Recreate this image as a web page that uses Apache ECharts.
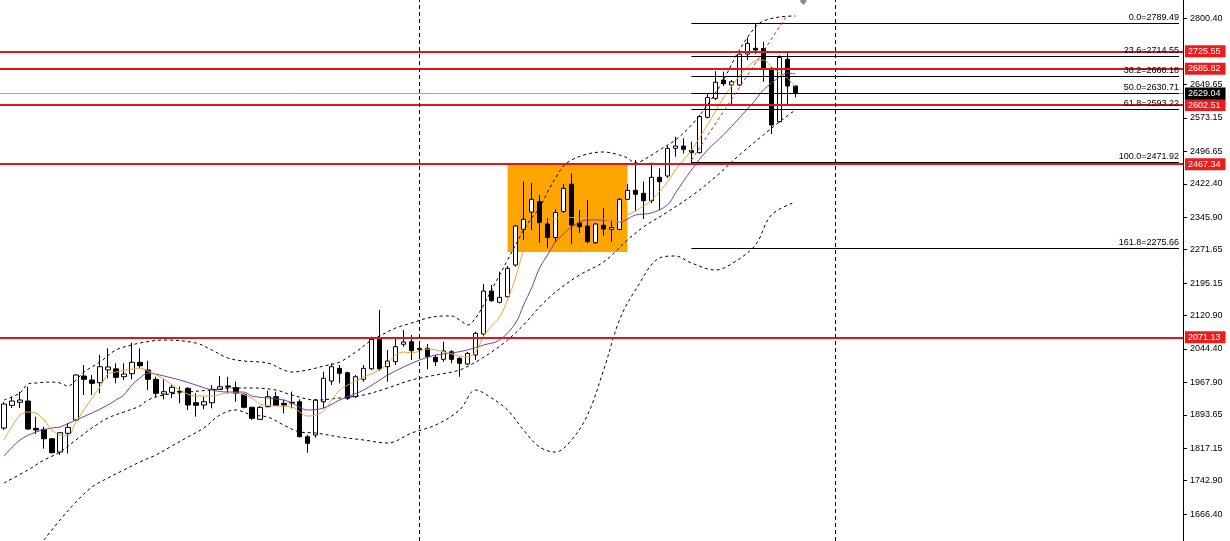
<!DOCTYPE html>
<html><head><meta charset="utf-8">
<script src="https://cdn.jsdelivr.net/npm/echarts@6/dist/echarts.min.js"></script>
<style>html,body{margin:0;padding:0;background:#fff}#c{width:1230px;height:541px}</style>
</head><body><div id="c"></div>
<script>
// candles: [open, high, low, close]
const ohlc = [
[1863.5,1923.0,1859.0,1918.4],[1915.5,1935.2,1909.3,1925.3],[1922.3,1946.6,1909.3,1927.6],[1925.3,1958.0,1859.0,1861.2],
[1862.8,1889.4,1849.8,1859.0],[1860.5,1866.5,1816.2,1839.0],[1839.0,1840.0,1805.6,1807.0],[1808.6,1853.5,1801.7,1852.8],
[1851.4,1875.0,1805.6,1865.1],[1881.8,1987.1,1879.5,1984.8],[1982.5,2007.7,1939.0,1975.0],[1973.4,1984.8,1939.0,1965.8],
[1967.2,2030.6,1942.9,2003.8],[1996.5,2045.9,1977.3,2003.3],[1998.9,2011.6,1965.8,1979.5],[1980.9,2011.6,1973.4,1987.1],
[1987.8,2058.7,1975.0,2013.9],[2013.9,2045.9,2000.1,2006.1],[1996.3,2017.5,1950.5,1975.0],[1975.0,1980.9,1935.2,1942.9],
[1941.3,1975.0,1929.2,1946.6],[1945.2,1961.9,1932.2,1956.7],[1947.5,1958.0,1920.0,1946.0],[1954.4,1956.7,1904.7,1916.2],
[1921.4,1942.9,1889.4,1915.5],[1916.2,1935.2,1906.3,1923.7],[1921.4,1961.9,1908.6,1952.1],[1952.1,1982.5,1950.5,1958.0],
[1959.6,1980.9,1942.9,1957.3],[1955.7,1969.5,1923.7,1942.9],[1940.6,1942.9,1908.6,1910.9],[1910.9,1912.3,1881.8,1885.7],
[1883.4,1913.9,1881.8,1910.9],[1912.3,1948.9,1910.9,1935.2],[1935.2,1946.6,1913.9,1915.5],[1920.0,1929.2,1897.2,1916.2],
[1922.3,1946.6,1908.6,1920.7],[1923.7,1929.2,1842.2,1843.6],[1843.6,1847.5,1807.0,1828.5],[1847.5,1929.9,1841.3,1927.6],
[1923.7,1992.4,1908.6,1977.3],[1971.1,2011.6,1961.9,2003.8],[2000.1,2007.7,1965.8,1988.7],[1990.1,1992.4,1927.6,1931.5],
[1935.2,1984.8,1932.2,1980.9],[1975.0,2007.7,1969.5,2000.1],[1998.9,2072.5,1996.3,2066.5],[2066.5,2133.6,1994.7,1998.9],
[2003.8,2042.1,1969.5,2016.9],[2015.2,2068.8,2007.7,2049.6],[2055.1,2087.8,2049.6,2060.4],[2061.0,2076.4,2019.2,2040.5],
[2043.2,2055.8,2028.3,2045.9],[2045.9,2055.8,1997.9,2026.7],[2025.3,2030.6,2005.4,2015.2],[2020.7,2061.0,2015.2,2039.7],
[2038.1,2042.1,2011.6,2020.7],[2023.0,2026.0,1980.9,2011.6],[2010.0,2037.4,2007.7,2034.5],[2030.6,2083.9,2019.2,2080.2],
[2078.6,2193.1,2074.1,2177.0],[2177.0,2190.8,2152.5,2154.8],[2151.2,2221.2,2148.9,2162.6],[2164.0,2234.2,2162.6,2229.0],
[2236.5,2328.1,2232.6,2325.8],[2318.2,2427.6,2293.7,2341.1],[2357.8,2424.2,2316.5,2386.9],[2381.4,2396.8,2287.6,2333.3],
[2330.4,2343.4,2274.8,2299.5],[2299.5,2364.0,2289.9,2356.7],[2359.0,2421.9,2355.6,2412.1],[2421.5,2446.4,2284.6,2328.1],
[2332.7,2362.4,2309.8,2324.2],[2325.8,2385.3,2286.2,2289.9],[2287.6,2332.7,2284.6,2330.4],[2327.6,2366.3,2303.0,2318.9],
[2318.2,2339.5,2289.9,2322.3],[2318.2,2389.9,2316.5,2386.9],[2386.9,2421.9,2385.3,2407.5],[2407.5,2476.9,2360.2,2398.4],
[2400.7,2427.2,2341.8,2383.7],[2383.7,2471.1,2377.8,2437.3],[2437.3,2457.9,2362.4,2427.2],[2440.2,2508.9,2435.7,2503.6],
[2503.6,2530.2,2484.4,2508.9],[2508.9,2526.5,2492.2,2501.3],[2498.6,2518.7,2470.0,2493.6],[2493.6,2579.8,2491.7,2576.4],
[2574.6,2629.5,2572.3,2619.9],[2618.0,2680.1,2614.2,2654.9],[2659.9,2678.9,2646.2,2651.5],[2648.5,2659.9,2602.7,2656.0],
[2648.5,2724.7,2646.2,2719.0],[2719.4,2757.2,2705.7,2743.9],[2732.5,2789.5,2719.4,2728.6],[2732.0,2747.6,2656.0,2686.7],
[2686.7,2690.4,2536.3,2557.0],[2564.5,2716.0,2562.7,2711.4],[2707.3,2721.0,2600.4,2646.2],[2646.2,2647.5,2620.0,2629.0]
];
// indicator readings: [candle index, price]
const maFast = [[0,1836.1],[2,1893.3],[3,1900.2],[4,1897.9],[5,1881.9],[6,1859.0],[7,1847.5],[8,1845.3],[9,1877.3],[10,1904.8],[11,1932.2],[12,1957.4],[13,1987.1],[14,1991.7],[16,1998.6],[17,2000.9],[18,1994.0],[20,1975.7],[22,1950.5],[24,1936.8],[26,1936.8],[28,1943.7],[29,1943.7],[31,1932.2],[32,1918.5],[34,1913.9],[36,1911.6],[38,1891.0],[39,1893.3],[40,1902.5],[41,1927.6],[42,1950.5],[43,1962.0],[45,1980.3],[47,1996.3],[48,2012.3],[49,2030.6],[50,2037.5],[51,2035.2],[53,2044.3],[55,2037.5],[57,2028.3],[58,2026.0],[59,2037.5],[60,2074.1],[61,2097.0],[62,2117.6],[63,2156.5],[64,2206.8],[65,2270.9],[66,2312.1],[67,2330.4],[68,2337.3],[70,2346.4],[72,2344.1],[74,2344.1],[76,2337.3],[77,2335.0],[78,2351.0],[79,2360.1],[81,2385.3],[83,2426.5],[84,2454.0],[86,2499.7],[88,2556.9],[90,2618.7],[92,2669.1],[93,2689.7],[94,2703.4],[95,2705.7],[96,2689.7],[97,2675.9],[98,2664.5],[99,2643.9]];
const maSlow = [[0,1799.5],[2,1836.1],[4,1854.4],[6,1863.6],[7,1865.9],[9,1881.9],[11,1897.9],[13,1916.2],[14,1927.6],[15,1939.1],[16,1962.0],[17,1978.0],[18,1989.4],[20,1982.6],[22,1973.4],[24,1962.0],[26,1950.5],[28,1945.9],[30,1945.9],[31,1936.8],[33,1932.2],[35,1927.6],[36,1920.8],[38,1904.8],[40,1909.3],[42,1927.6],[45,1950.5],[48,1984.8],[50,2003.2],[52,2019.2],[54,2030.6],[56,2035.2],[58,2042.1],[60,2053.5],[62,2064.9],[64,2103.8],[65,2145.0],[66,2183.9],[67,2229.7],[68,2259.5],[69,2289.2],[70,2307.5],[71,2323.5],[73,2339.6],[75,2339.6],[77,2335.0],[79,2351.0],[81,2355.6],[83,2373.9],[84,2401.3],[86,2454.0],[88,2499.7],[90,2534.1],[92,2573.0],[94,2614.2],[95,2637.0],[97,2666.8],[98,2675.9],[99,2673.7]];
const bbUpper = [[0,1927.6],[2,1943.7],[3,1964.3],[4,1966.6],[6,1968.8],[7,1966.6],[8,1959.7],[9,1973.4],[10,1991.7],[12,2014.6],[14,2042.1],[16,2053.5],[17,2058.1],[20,2064.9],[24,2058.1],[26,2042.1],[28,2023.7],[30,2016.9],[33,2012.3],[35,1996.3],[36,1991.7],[38,1996.3],[40,2005.4],[42,2014.6],[44,2037.5],[46,2064.9],[47,2074.1],[49,2092.4],[51,2103.8],[53,2115.3],[55,2119.9],[56,2119.9],[57,2110.7],[58,2099.3],[59,2115.3],[60,2145.0],[61,2179.4],[62,2213.7],[63,2248.0],[64,2282.3],[65,2316.7],[66,2344.1],[67,2367.0],[68,2403.6],[69,2435.7],[70,2463.1],[71,2476.9],[73,2490.6],[75,2495.2],[77,2488.3],[78,2481.4],[79,2470.0],[80,2476.9],[82,2499.7],[84,2522.6],[86,2556.9],[88,2602.7],[90,2659.9],[92,2728.6],[94,2781.2],[95,2794.9],[97,2804.1],[99,2806.4]];
const bbMiddle = [[0,1737.7],[3,1767.5],[5,1790.3],[7,1808.6],[9,1836.1],[11,1863.6],[13,1886.5],[15,1900.2],[17,1913.9],[18,1927.6],[20,1939.1],[23,1945.9],[26,1950.5],[29,1955.1],[31,1955.1],[34,1950.5],[36,1939.1],[39,1927.6],[42,1932.2],[45,1939.1],[48,1955.1],[51,1973.4],[54,1984.8],[57,1996.3],[59,2014.6],[61,2037.5],[63,2064.9],[65,2099.3],[67,2140.5],[69,2174.8],[72,2213.7],[75,2243.4],[78,2293.8],[80,2323.5],[83,2357.9],[86,2394.5],[89,2438.0],[92,2488.3],[95,2534.1],[97,2563.8],[99,2591.3]];
const bbLower = [[5,1607.3],[7,1653.0],[9,1694.2],[11,1728.5],[13,1749.1],[15,1767.5],[17,1785.8],[19,1801.8],[21,1822.4],[23,1843.0],[25,1863.6],[27,1893.3],[29,1904.8],[31,1893.3],[33,1888.7],[35,1870.4],[37,1854.4],[39,1852.1],[42,1843.0],[45,1836.1],[48,1829.2],[51,1852.1],[54,1870.4],[57,1904.8],[59,1950.5],[61,1932.2],[63,1904.8],[65,1859.0],[67,1820.1],[69,1808.6],[71,1836.1],[73,1893.3],[75,1995.0],[77,2110.7],[79,2179.4],[82,2252.6],[84,2257.2],[86,2241.2],[89,2225.1],[91,2238.9],[94,2282.3],[96,2351.0],[99,2380.7]];
// horizontal levels
const redLevels = [2725.55, 2685.82, 2602.51, 2467.34, 2071.13];
const lastPrice = 2629.04;
const fibPct = ['0.0','23.6','38.2','50.0','61.8','100.0','161.8'];
const fibVals = [2789.49, 2714.55, 2668.18, 2630.71, 2593.22, 2471.92, 2275.66];
const fibStart = 86;
const vLines = [52, 104];
const boxRange = {x0: 63, x1: 78, top: 2467.34, bottom: 2266.3};
const trendLine = [[86, 2476.9], [98, 2808.7]];
const arrowMark = [100, 2840.5];
const tickVals = [2800.40, 2649.65, 2573.15, 2496.65, 2422.40, 2345.90, 2271.65, 2195.15, 2120.90, 2044.40, 1967.90, 1893.65, 1817.15, 1742.90, 1666.40];

const N = 148;
const cats = Array.from({length: N}, (_, i) => String(i));
const FONT = 'Liberation Sans';

const markLines = [];
redLevels.forEach(v => markLines.push({
  yAxis: v,
  lineStyle: {color: '#e0161b', width: 2, type: 'solid'},
  label: {show: true, position: 'end', distance: 2, formatter: v.toFixed(2), color: '#fff',
    backgroundColor: '#ef1b1b', padding: [2, 5, 1, 3], fontSize: 9, fontFamily: FONT}
}));
markLines.push({
  yAxis: lastPrice,
  lineStyle: {color: '#a8a8a8', width: 1, type: 'solid'},
  label: {show: true, position: 'end', distance: 2, formatter: lastPrice.toFixed(2), color: '#fff',
    backgroundColor: '#000', padding: [2, 5, 1, 3], fontSize: 9, fontFamily: FONT}
});
fibVals.forEach((v, i) => markLines.push([
  {coord: [String(fibStart), v], lineStyle: {color: '#000', width: 1, type: 'solid'},
   label: {show: true, position: 'insideEndTop', distance: [0, 1], formatter: fibPct[i] + '=' + v.toFixed(2),
     color: '#000', fontSize: 9, fontFamily: FONT}},
  {coord: [String(N - 1), v]}
]));
vLines.forEach(x => markLines.push({
  xAxis: String(x), lineStyle: {color: '#000', width: 1, type: [4, 3]}, label: {show: false}
}));
markLines.push([
  {coord: [String(trendLine[0][0]), trendLine[0][1]], lineStyle: {color: '#d8191c', width: 1, type: [3, 3]}, label: {show: false}},
  {coord: [String(trendLine[1][0]), trendLine[1][1]]}
]);

function lineSeries(data, color, dashed) {
  return {type: 'line', data: data, smooth: 0.35, symbol: 'none', z: 3, silent: true,
    lineStyle: {color: color, width: 1, type: dashed ? [3, 3] : 'solid'}};
}

const chart = echarts.init(document.getElementById('c'), null, {renderer: 'canvas'});
chart.setOption({
  animation: false,
  backgroundColor: '#fff',
  grid: {left: 0, right: 47, top: 0, bottom: 0},
  xAxis: {type: 'category', data: cats, boundaryGap: true, show: false},
  yAxis: {
    type: 'value', position: 'right', min: 1605, max: 2843, scale: true,
    splitLine: {show: false},
    axisLine: {show: true, onZero: false, lineStyle: {color: '#000', width: 1}},
    axisTick: {show: true, length: 4, lineStyle: {color: '#000'}, customValues: tickVals},
    axisLabel: {show: true, margin: 7, fontSize: 9, fontFamily: FONT, color: '#000',
      customValues: tickVals, formatter: v => v.toFixed(2)}
  },
  series: [
    {
      type: 'candlestick', z: 2, barWidth: 5, silent: true,
      data: ohlc.map(d => [d[0], d[3], d[2], d[1]]),
      itemStyle: {color: '#fff', color0: '#000', borderColor: '#000', borderColor0: '#000', borderColorDoji: '#000', borderWidth: 1},
      markArea: {silent: true, z: 1, itemStyle: {color: '#ffa500', opacity: 1},
        data: [[{xAxis: String(boxRange.x0), yAxis: boxRange.top}, {xAxis: String(boxRange.x1), yAxis: boxRange.bottom}]]},
      markLine: {silent: true, symbol: ['none', 'none'], animation: false, z: 5, data: markLines},
      markPoint: {silent: true, z: 6, data: [{coord: [String(arrowMark[0]), arrowMark[1]], symbol: 'diamond',
        symbolSize: [7, 8], itemStyle: {color: '#8a8a8a'}, label: {show: false}}]}
    },
    lineSeries(bbUpper, '#000', true),
    lineSeries(bbMiddle, '#000', true),
    lineSeries(bbLower, '#000', true),
    lineSeries(maSlow, '#7b3fa3', false),
    lineSeries(maFast, '#eaa43c', false)
  ]
});
</script>
</body></html>
